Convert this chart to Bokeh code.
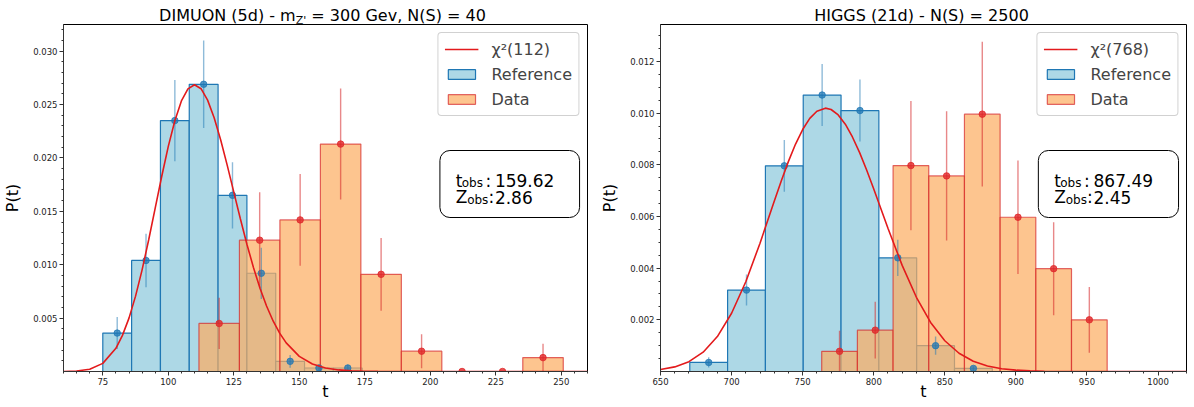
import numpy as np
from bokeh.plotting import figure
from bokeh.models import (Range1d, FixedTicker, PrintfTickFormatter, Label, Legend,
                          LegendItem, BoxAnnotation, Div)
from bokeh.layouts import row, column
from bokeh.embed import file_html
from bokeh.resources import INLINE

FONT = "DejaVu Sans"

# ---------------- DIMUON panel ----------------
dim_ref_edges = [75, 86, 97, 108, 119, 130, 141, 152, 163, 174]
dim_ref_heights = [0.0036, 0.0104, 0.0235, 0.0269, 0.0165, 0.0092, 0.00095, 0.00033, 0.00033]
dim_ref_errors = [0.0015, 0.0025, 0.0038, 0.0041, 0.0031, 0.0024, 0.0006, 0.0003, 0.0003]
dim_data_edges = [111.7, 127.15, 142.6, 158.05, 173.5, 188.95, 204.4, 219.85, 235.3, 250.75]
dim_data_heights = [0.0045, 0.0123, 0.0142, 0.0213, 0.0091, 0.0019, 0.0, 0.0, 0.0013]
dim_data_errors = [0.0024, 0.0045, 0.0043, 0.0052, 0.0034, 0.0016, 0.0, 0.0, 0.0013]
dim_chi2_t = [60, 65, 70, 75, 80, 82.5, 85, 87.5, 90, 92.5, 95, 97.5, 100, 102.5, 105, 107.5,
              110, 112.5, 115, 117.5, 120, 122.5, 125, 127.5, 130, 132.5, 135, 137.5, 140, 142.5,
              145, 150, 155, 160, 165, 170, 175, 180, 190, 200, 230, 260]
dim_chi2_p = [0.0000064, 0.0000431, 0.000208, 0.000761, 0.002172, 0.003381, 0.005001, 0.007059,
              0.009522, 0.012313, 0.015297, 0.018286, 0.021088, 0.023492, 0.025337, 0.026476,
              0.02686, 0.026487, 0.025418, 0.023768, 0.021679, 0.019305, 0.016801, 0.014305,
              0.011923, 0.009739, 0.007797, 0.006133, 0.004733, 0.003590, 0.002678, 0.001417,
              0.000706, 0.000332, 0.000148, 0.000063, 0.000025, 0.00001, 0.0000013, 0.0, 0.0, 0.0]
dim_xlim = (60, 260)
dim_ylim = (0, 0.0325)
dim_xticks = [75, 100, 125, 150, 175, 200, 225, 250]
dim_xminor = list(range(60, 261, 5))
dim_yticks = [0.005, 0.010, 0.015, 0.020, 0.025, 0.030]
dim_yminor = [i * 0.001 for i in range(1, 33)]
dim_title_html = ('DIMUON (5d) - m<span style="font-size:11px;position:relative;top:3px;">'
                  "Z'</span> = 300 Gev, N(S) = 40")
dim_chi2_label = "χ²(112)"
dim_t_obs = "159.62"
dim_z_obs = "2.86"

# ---------------- HIGGS panel ----------------
hig_ref_edges = [670.6, 697.2, 723.8, 750.4, 777.0, 803.6, 830.2, 856.8, 883.4]
hig_ref_heights = [0.00035, 0.00315, 0.00796, 0.0107, 0.0101, 0.0044, 0.001, 0.00012]
hig_ref_errors = [0.0002, 0.0006, 0.001, 0.0012, 0.0012, 0.0007, 0.00035, 0.0001]
hig_data_edges = [763.4, 788.5, 813.6, 838.7, 863.8, 888.9, 914.0, 939.1, 964.2]
hig_data_heights = [0.00078, 0.0016, 0.00797, 0.00757, 0.00996, 0.00597, 0.00398, 0.002]
hig_data_errors = [0.0008, 0.0011, 0.0025, 0.0025, 0.0028, 0.0022, 0.0018, 0.00127]
hig_chi2_t = [650, 660, 670, 680, 690, 700, 710, 720, 730, 735, 740, 745, 750, 755, 760, 766,
              770, 775, 780, 785, 790, 795, 800, 810, 820, 830, 840, 850, 860, 870, 880, 890,
              900, 910, 920, 940, 960, 1020]
hig_chi2_p = [0.0000765, 0.000178, 0.000382, 0.000748, 0.001352, 0.002254, 0.003473, 0.004965,
              0.006588, 0.007384, 0.008133, 0.008804, 0.009365, 0.009796, 0.010074, 0.010193,
              0.010140, 0.009928, 0.009570, 0.009077, 0.008480, 0.007798, 0.007064, 0.005545,
              0.004106, 0.002872, 0.001900, 0.001191, 0.000707, 0.000399, 0.000214, 0.000109,
              0.000053, 0.000025, 0.000011, 0.000002, 0.0, 0.0]
hig_xlim = (650, 1020)
hig_ylim = (0, 0.01343)
hig_xticks = [650, 700, 750, 800, 850, 900, 950, 1000]
hig_xminor = list(range(650, 1021, 10))
hig_yticks = [0.002, 0.004, 0.006, 0.008, 0.010, 0.012]
hig_yminor = [i * 0.0005 for i in range(1, 27)]
hig_title_html = "HIGGS (21d) - N(S) = 2500"
hig_chi2_label = "χ²(768)"
hig_t_obs = "867.49"
hig_z_obs = "2.45"

TITLE_H = 23
H = 407 - TITLE_H
TOP, BOTTOM = 1, 36
FH = H - TOP - BOTTOM


def title_div(html, width, mbl, FW):
    inner = ('<div style="margin-left:%dpx;width:%dpx;padding-top:4.5px;text-align:center;'
             "font-family:'DejaVu Sans';font-size:16px;"
             'white-space:nowrap;color:#000000;">%s</div>') % (mbl, FW, html)
    return Div(text=inner, width=width, height=TITLE_H, margin=0)


def panel(width, mbl, mbr, xlim, ylim, xticks, xminor, yticks, yminor,
          ref_edges, ref_h, ref_e, dat_edges, dat_h, dat_e, chi_t, chi_p,
          chi_label, t_obs, z_obs):
    FW = width - mbl - mbr
    p = figure(width=width, height=H, output_backend="svg", toolbar_location=None,
               title=None, x_range=Range1d(*xlim), y_range=Range1d(*ylim),
               min_border_left=mbl, min_border_right=mbr,
               min_border_top=TOP, min_border_bottom=BOTTOM)
    p.xgrid.visible = False
    p.ygrid.visible = False
    p.outline_line_color = "black"
    p.outline_line_width = 1
    p.background_fill_color = "white"
    p.border_fill_color = "white"

    p.xaxis.ticker = FixedTicker(ticks=xticks, minor_ticks=xminor)
    p.yaxis.ticker = FixedTicker(ticks=yticks, minor_ticks=yminor)
    p.yaxis.formatter = PrintfTickFormatter(format="%.3f")
    for ax in (p.xaxis, p.yaxis):
        ax.major_label_text_font = FONT
        ax.major_label_text_font_size = "8.5px"
        ax.major_label_text_color = "#222222"
        ax.major_tick_out = 4
        ax.major_tick_in = 0
        ax.minor_tick_out = 2
        ax.minor_tick_in = 0
        ax.major_label_standoff = 2
        ax.axis_line_color = "#333333"
        ax.major_tick_line_color = "#333333"
        ax.minor_tick_line_color = "#333333"
        ax.axis_label_text_font = FONT
        ax.axis_label_text_font_size = "16px"
        ax.axis_label_text_font_style = "normal"
        ax.axis_label_text_color = "black"
    p.xaxis.axis_label = "t"
    p.xaxis.axis_label_standoff = -6
    p.yaxis.axis_label = "P(t)"
    p.yaxis.axis_label_standoff = 8

    re = np.array(ref_edges, dtype=float)
    de = np.array(dat_edges, dtype=float)
    rh = np.array(ref_h)
    dh = np.array(dat_h)
    rerr = np.array(ref_e)
    derr = np.array(dat_e)
    rc = 0.5 * (re[:-1] + re[1:])
    dc = 0.5 * (de[:-1] + de[1:])

    ref = p.quad(left=re[:-1], right=re[1:], bottom=0, top=rh,
                 fill_color="#add8e6", line_color="#1f77b4", line_width=1.2)
    dat = p.quad(left=de[:-1], right=de[1:], bottom=0, top=dh,
                 fill_color="#fcac60", fill_alpha=0.7,
                 line_color="#d62728", line_alpha=0.7, line_width=1.2)
    p.segment(x0=rc, y0=rh - rerr, x1=rc, y1=rh + rerr,
              line_color="#1f77b4", line_alpha=0.5, line_width=1.4)
    p.scatter(rc, rh, size=6.5, fill_color="#1f77b4", line_color="#1f77b4", alpha=0.75)
    p.segment(x0=dc, y0=dh - derr, x1=dc, y1=dh + derr,
              line_color="#d62728", line_alpha=0.55, line_width=1.4)
    p.scatter(dc, dh, size=6.5, fill_color="#e0282a", line_color="#e0282a", alpha=0.8)
    chi = p.line(chi_t, chi_p, line_color="#e31a1c", line_width=1.6)

    legend = Legend(items=[LegendItem(label=chi_label, renderers=[chi]),
                           LegendItem(label="Reference", renderers=[ref]),
                           LegendItem(label="Data", renderers=[dat])],
                    location="top_right", margin=8, padding=6, spacing=5,
                    glyph_width=34, glyph_height=12, label_height=20,
                    label_standoff=13, label_text_font=FONT,
                    label_text_font_size="16px",
                    border_line_color="#cccccc", border_line_alpha=0.9,
                    background_fill_color="white", background_fill_alpha=0.8)
    if "border_radius" in Legend.properties():
        legend.border_radius = 4
    p.add_layout(legend)

    def X(fx):
        return xlim[0] + fx / FW * (xlim[1] - xlim[0])

    def Y(fy):
        return ylim[0] + fy / FH * (ylim[1] - ylim[0])

    def lab(fx, fy, text, size):
        p.add_layout(Label(x=X(fx), y=Y(fy), text=text, text_font=FONT,
                           text_font_size=size, text_align="left",
                           text_baseline="alphabetic", text_color="black"))

    # annotation box
    bl, br = FW - 149, FW - 8
    bt, bb = FH - 126, FH - 193
    box = BoxAnnotation(left=X(bl), right=X(br), top=Y(bt), bottom=Y(bb),
                        fill_color="white", fill_alpha=1.0,
                        line_color="black", line_width=1, line_alpha=1.0)
    if "border_radius" in BoxAnnotation.properties():
        box.border_radius = 10
    p.add_layout(box)
    y1, y2 = FH - 156, FH - 172.7
    lab(bl + 16, y1, "t", "17px")
    lab(bl + 22, y1 - 2.5, "obs", "12px")
    lab(bl + 46, y1, ":", "17px")
    lab(bl + 55.5, y1, t_obs, "17px")
    lab(bl + 16, y2, "Z", "17px")
    lab(bl + 27.5, y2 - 2.5, "obs", "12px")
    lab(bl + 49, y2, ":", "17px")
    lab(bl + 55.5, y2, z_obs, "17px")
    return p


p1 = panel(597, 58, 10, dim_xlim, dim_ylim, dim_xticks, dim_xminor, dim_yticks, dim_yminor,
           dim_ref_edges, dim_ref_heights, dim_ref_errors,
           dim_data_edges, dim_data_heights, dim_data_errors,
           dim_chi2_t, dim_chi2_p, dim_chi2_label, dim_t_obs, dim_z_obs)
p2 = panel(597, 60, 8, hig_xlim, hig_ylim, hig_xticks, hig_xminor, hig_yticks, hig_yminor,
           hig_ref_edges, hig_ref_heights, hig_ref_errors,
           hig_data_edges, hig_data_heights, hig_data_errors,
           hig_chi2_t, hig_chi2_p, hig_chi2_label, hig_t_obs, hig_z_obs)

d1 = title_div(dim_title_html, 597, 58, 529)
d2 = title_div(hig_title_html, 597, 60, 529)

layout = row(column(d1, p1, spacing=0), column(d2, p2, spacing=0), spacing=0)
open("out.html", "w").write(file_html(layout, INLINE))
